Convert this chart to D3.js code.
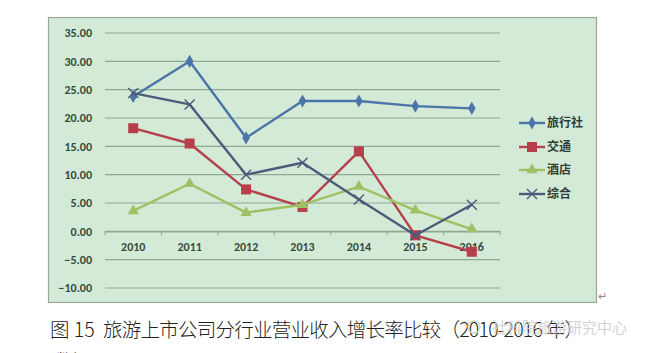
<!DOCTYPE html>
<html><head><meta charset="utf-8">
<script src="https://cdn.jsdelivr.net/npm/d3@7"></script>
<style>body{margin:0;background:#fff;}svg{display:block;}</style>
</head><body>
<svg id="c" width="650" height="353"></svg>
<script>
const years = ["2010","2011","2012","2013","2014","2015","2016"];
const lvxingshe = [23.8, 30.0, 16.5, 23.0, 23.0, 22.1, 21.7];
const jiaotong  = [18.2, 15.5, 7.4, 4.3, 14.1, -0.7, -3.6];
const jiudian   = [3.6, 8.4, 3.3, 4.7, 7.9, 3.7, 0.4];
const zonghe    = [24.4, 22.4, 10.0, 12.1, 5.6, -0.7, 4.7];
const seriesNames = ["旅行社","交通","酒店","综合"];
const yTicks = [-10,-5,0,5,10,15,20,25,30,35];
const captionHead = "图 15";
const captionBody = "旅游上市公司分行业营业收入增长率比较（2010-2016 年）";
const watermark = "社科院旅游研究中心";

const series = [
  {name: seriesNames[0], values: lvxingshe, color: "#4a74aa", marker: "diamond"},
  {name: seriesNames[1], values: jiaotong,  color: "#b5404c", marker: "square"},
  {name: seriesNames[2], values: jiudian,   color: "#9cc264", marker: "triangle"},
  {name: seriesNames[3], values: zonghe,    color: "#4b5b7c", marker: "x"}
];

const svg = d3.select("#c");
// chart box
svg.append("rect").attr("x",48.5).attr("y",17.5).attr("width",548).attr("height",285)
  .attr("fill","#d3ead6").attr("stroke","#9aa59c").attr("stroke-width",1.2);

const x = d3.scaleBand().domain(years).range([105,500]);
const y = d3.scaleLinear().domain([-10,35]).range([288,33]);

// gridlines
svg.append("g").selectAll("line").data(yTicks).join("line")
  .attr("x1",105).attr("x2",500).attr("y1",d=>y(d)).attr("y2",d=>y(d))
  .attr("stroke","#8ea894").attr("stroke-width",1.1);

// y axis labels
const fontLat = "Calibri, Carlito, 'Liberation Sans', Arial, sans-serif";
svg.append("g").selectAll("text").data(yTicks).join("text")
  .attr("x",92).attr("y",d=>y(d)).attr("dy","0.35em").attr("text-anchor","end")
  .attr("font-family",fontLat).attr("font-size",12).attr("font-weight",600)
  .attr("fill","#344a3c").text(d=>d3.format(".2f")(d));

// x axis line at 0
const xAxis = d3.axisBottom(x).tickSize(0).tickFormat("");
const gx = svg.append("g").attr("transform",`translate(0,${y(0)})`).call(xAxis);
gx.select(".domain").attr("stroke","#8ea894").attr("stroke-width",1.1);
// band boundary ticks
svg.append("g").selectAll("line").data(d3.range(years.length+1)).join("line")
  .attr("x1",i=>105+i*x.step()).attr("x2",i=>105+i*x.step())
  .attr("y1",y(0)).attr("y2",y(0)+4).attr("stroke","#8ea894");
// category labels
svg.append("g").selectAll("text").data(years).join("text")
  .attr("x",d=>x(d)+x.bandwidth()/2).attr("y",y(0)+20).attr("text-anchor","middle")
  .attr("font-family",fontLat).attr("font-size",12).attr("font-weight",600)
  .attr("fill","#344a3c").text(d=>d);

const cx = d=>x(d)+x.bandwidth()/2;
const line = d3.line().x((v,i)=>cx(years[i])).y(v=>y(v));

function drawMarker(g, type, color, px, py){
  if(type==="diamond"){
    g.append("path").attr("d",d3.symbol(d3.symbolDiamond,50)()).attr("transform",`translate(${px},${py})`).attr("fill",color);
  } else if(type==="square"){
    g.append("rect").attr("x",px-5).attr("y",py-5).attr("width",10).attr("height",10).attr("fill",color);
  } else if(type==="triangle"){
    g.append("path").attr("d",d3.symbol(d3.symbolTriangle,55)()).attr("transform",`translate(${px},${py})`).attr("fill",color);
  } else {
    g.append("path").attr("d",`M${px-5},${py-5}L${px+5},${py+5}M${px-5},${py+5}L${px+5},${py-5}`)
      .attr("stroke",color).attr("stroke-width",1.4);
  }
}

series.forEach(s=>{
  const g = svg.append("g");
  g.append("path").datum(s.values).attr("d",line).attr("fill","none")
    .attr("stroke",s.color).attr("stroke-width",2.4).attr("stroke-linejoin","round");
  s.values.forEach((v,i)=>drawMarker(g,s.marker,s.color,cx(years[i]),y(v)));
});

// legend
const legY = [123,147,170,194];
series.forEach((s,i)=>{
  const g = svg.append("g");
  g.append("line").attr("x1",519).attr("x2",545).attr("y1",legY[i]).attr("y2",legY[i])
    .attr("stroke",s.color).attr("stroke-width",2.4);
  drawMarker(g,s.marker,s.color,532,legY[i]);
  g.append("text").attr("x",547).attr("y",legY[i]).attr("dy","0.36em")
    .attr("font-family","'Noto Sans CJK SC', sans-serif").attr("font-size",12).attr("font-weight","bold")
    .attr("fill","#2f3e36").text(s.name);
});

// caption
const capFont = "'Noto Sans CJK SC', sans-serif";
svg.append("text").attr("x",50).attr("y",337)
  .attr("font-family",capFont).attr("font-size",19.5).attr("font-weight",300)
  .attr("fill","#222").text(captionHead);
svg.append("text").attr("x",103).attr("y",337).attr("textLength",481).attr("lengthAdjust","spacing")
  .attr("font-family",capFont).attr("font-size",19.5).attr("font-weight",300)
  .attr("fill","#222").text(captionBody);
svg.append("circle").attr("cx",474).attr("cy",327).attr("r",6).attr("fill","none").attr("stroke","#d4d4d4").attr("stroke-width",1.5);
svg.append("text").attr("x",492).attr("y",333)
  .attr("font-family",capFont).attr("font-size",15)
  .attr("fill","#cfcfcf").attr("opacity",0.9).text(watermark);
svg.append("text").attr("x",598).attr("y",300).attr("font-family","sans-serif").attr("font-size",11).attr("fill","#888").text("↵");
svg.append("text").attr("x",56).attr("y",366).attr("font-family",capFont).attr("font-size",16).attr("fill","#444").text("数据");
</script>
</body></html>
